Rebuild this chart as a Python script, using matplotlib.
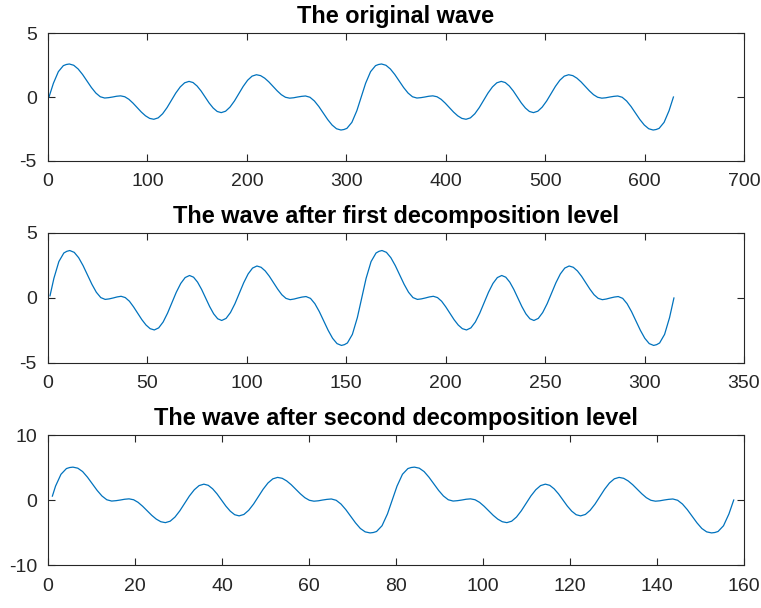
import matplotlib
matplotlib.use('Agg')
import matplotlib.pyplot as plt

# Original signal (sample index, amplitude)
orig_x = [1, 5.4, 10.4, 15.4, 18.4, 21.4, 25.85, 30.3, 34.75, 39.2,
          43.65, 48.1, 52.55, 57, 61, 65, 69, 73, 77.2, 81.35,
          85.5, 89.7, 93.9, 98.05, 102.2, 106.4, 110.8, 115.25, 119.7, 124.1,
          128.5, 133, 137.4, 141.8, 145.85, 149.9, 153.95, 158, 162.05, 166.1,
          170.15, 174.2, 178.6, 183, 187.5, 191.9, 196.3, 200.75, 205.2, 209.6,
          213.8, 217.95, 222.1, 226.3, 230.5, 234.65, 238.8, 243, 247, 251,
          255, 259, 263.45, 267.9, 272.35, 276.8, 281.25, 285.7, 290.15, 294.6,
          297.6, 300.6, 305.6, 310.6, 315,
          319.4, 324.4, 329.4, 332.4, 335.4, 339.85, 344.3, 348.75, 353.2,
          357.65, 362.1, 366.55, 371, 375, 379, 383, 387, 391.2, 395.35,
          399.5, 403.7, 407.9, 412.05, 416.2, 420.4, 424.8, 429.25, 433.7, 438.1,
          442.5, 447, 451.4, 455.8, 459.85, 463.9, 467.95, 472, 476.05, 480.1,
          484.15, 488.2, 492.6, 497, 501.5, 505.9, 510.3, 514.75, 519.2, 523.6,
          527.8, 531.95, 536.1, 540.3, 544.5, 548.65, 552.8, 557, 561, 565,
          569, 573, 577.45, 581.9, 586.35, 590.8, 595.25, 599.7, 604.15, 608.6,
          611.6, 614.6, 619.6, 624.6, 629]
orig_y = [0.0, 1.07, 1.98, 2.45, 2.54, 2.58, 2.48, 2.19, 1.76, 1.25,
          0.74, 0.31, 0.02, -0.08, -0.05, 0.0, 0.06, 0.09, 0.02, -0.18,
          -0.48, -0.83, -1.18, -1.47, -1.67, -1.74, -1.63, -1.31, -0.83, -0.26,
          0.31, 0.79, 1.11, 1.22, 1.13, 0.86, 0.47, 0.0, -0.47, -0.86,
          -1.13, -1.22, -1.11, -0.79, -0.31, 0.26, 0.83, 1.31, 1.63, 1.74,
          1.67, 1.47, 1.18, 0.83, 0.48, 0.18, -0.02, -0.09, -0.06, 0.0,
          0.05, 0.08, -0.02, -0.31, -0.74, -1.25, -1.76, -2.19, -2.48, -2.58,
          -2.54, -2.45, -1.98, -1.07, 0.0,
          1.07, 1.98, 2.45, 2.54, 2.58, 2.48, 2.19, 1.76, 1.25,
          0.74, 0.31, 0.02, -0.08, -0.05, 0.0, 0.06, 0.09, 0.02, -0.18,
          -0.48, -0.83, -1.18, -1.47, -1.67, -1.74, -1.63, -1.31, -0.83, -0.26,
          0.31, 0.79, 1.11, 1.22, 1.13, 0.86, 0.47, 0.0, -0.47, -0.86,
          -1.13, -1.22, -1.11, -0.79, -0.31, 0.26, 0.83, 1.31, 1.63, 1.74,
          1.67, 1.47, 1.18, 0.83, 0.48, 0.18, -0.02, -0.09, -0.06, 0.0,
          0.05, 0.08, -0.02, -0.31, -0.74, -1.25, -1.76, -2.19, -2.48, -2.58,
          -2.54, -2.45, -1.98, -1.07, 0.0]

# Approximation coefficients after the first level
lvl1_x = [1, 2.95, 5.45, 7.95, 9.45, 10.95, 13.18, 15.4, 17.63, 19.85,
          22.08, 24.3, 26.53, 28.75, 30.75, 32.75, 34.75, 36.75, 38.85, 40.93,
          43.0, 45.1, 47.2, 49.28, 51.35, 53.45, 55.65, 57.88, 60.1, 62.3,
          64.5, 66.75, 68.95, 71.15, 73.18, 75.2, 77.23, 79.25, 81.28, 83.3,
          85.33, 87.35, 89.55, 91.75, 94.0, 96.2, 98.4, 100.63, 102.85, 105.05,
          107.15, 109.23, 111.3, 113.4, 115.5, 117.58, 119.65, 121.75, 123.75, 125.75,
          127.75, 129.75, 131.98, 134.2, 136.43, 138.65, 140.88, 143.1, 145.33, 147.55,
          149.05, 150.55, 153.05, 155.55, 157.75,
          159.95, 162.45, 164.95, 166.45, 167.95, 170.18, 172.4, 174.63, 176.85,
          179.08, 181.3, 183.53, 185.75, 187.75, 189.75, 191.75, 193.75, 195.85, 197.93,
          200.0, 202.1, 204.2, 206.28, 208.35, 210.45, 212.65, 214.88, 217.1, 219.3,
          221.5, 223.75, 225.95, 228.15, 230.18, 232.2, 234.23, 236.25, 238.28, 240.3,
          242.33, 244.35, 246.55, 248.75, 251.0, 253.2, 255.4, 257.63, 259.85, 262.05,
          264.15, 266.23, 268.3, 270.4, 272.5, 274.58, 276.65, 278.75, 280.75, 282.75,
          284.75, 286.75, 288.98, 291.2, 293.43, 295.65, 297.88, 300.1, 302.33, 304.55,
          306.05, 307.55, 310.05, 312.55, 314.75]
lvl1_y = [0.17, 1.51, 2.80, 3.46, 3.59, 3.65, 3.51, 3.10, 2.49, 1.77,
          1.05, 0.44, 0.03, -0.11, -0.07, 0.0, 0.08, 0.13, 0.03, -0.25,
          -0.68, -1.17, -1.67, -2.08, -2.36, -2.46, -2.30, -1.85, -1.17, -0.37,
          0.44, 1.12, 1.57, 1.73, 1.60, 1.22, 0.66, 0.0, -0.66, -1.22,
          -1.60, -1.73, -1.57, -1.12, -0.44, 0.37, 1.17, 1.85, 2.30, 2.46,
          2.36, 2.08, 1.67, 1.17, 0.68, 0.25, -0.03, -0.13, -0.08, 0.0,
          0.07, 0.11, -0.03, -0.44, -1.05, -1.77, -2.49, -3.10, -3.51, -3.65,
          -3.59, -3.46, -2.80, -1.51, 0.0,
          1.51, 2.80, 3.46, 3.59, 3.65, 3.51, 3.10, 2.49, 1.77,
          1.05, 0.44, 0.03, -0.11, -0.07, 0.0, 0.08, 0.13, 0.03, -0.25,
          -0.68, -1.17, -1.67, -2.08, -2.36, -2.46, -2.30, -1.85, -1.17, -0.37,
          0.44, 1.12, 1.57, 1.73, 1.60, 1.22, 0.66, 0.0, -0.66, -1.22,
          -1.60, -1.73, -1.57, -1.12, -0.44, 0.37, 1.17, 1.85, 2.30, 2.46,
          2.36, 2.08, 1.67, 1.17, 0.68, 0.25, -0.03, -0.13, -0.08, 0.0,
          0.07, 0.11, -0.03, -0.44, -1.05, -1.77, -2.49, -3.10, -3.51, -3.65,
          -3.59, -3.46, -2.80, -1.51, 0.0]

# Approximation coefficients after the second level
lvl2_x = [1, 1.73, 2.98, 4.23, 4.98, 5.73, 6.84, 7.95, 9.06, 10.18,
          11.29, 12.4, 13.51, 14.63, 15.63, 16.63, 17.63, 18.63, 19.68, 20.71,
          21.75, 22.8, 23.85, 24.89, 25.93, 26.98, 28.08, 29.19, 30.3, 31.4,
          32.5, 33.63, 34.73, 35.83, 36.84, 37.85, 38.86, 39.88, 40.89, 41.9,
          42.91, 43.93, 45.03, 46.13, 47.25, 48.35, 49.45, 50.56, 51.68, 52.78,
          53.83, 54.86, 55.9, 56.95, 58.0, 59.04, 60.08, 61.13, 62.13, 63.13,
          64.13, 65.13, 66.24, 67.35, 68.46, 69.58, 70.69, 71.8, 72.91, 74.03,
          74.78, 75.53, 76.78, 78.03, 79.13,
          80.23, 81.48, 82.73, 83.48, 84.23, 85.34, 86.45, 87.56, 88.68,
          89.79, 90.9, 92.01, 93.13, 94.13, 95.13, 96.13, 97.13, 98.18, 99.21,
          100.25, 101.3, 102.35, 103.39, 104.43, 105.48, 106.58, 107.69, 108.8, 109.9,
          111.0, 112.13, 113.23, 114.33, 115.34, 116.35, 117.36, 118.38, 119.39, 120.4,
          121.41, 122.43, 123.53, 124.63, 125.75, 126.85, 127.95, 129.06, 130.18, 131.28,
          132.33, 133.36, 134.4, 135.45, 136.5, 137.54, 138.58, 139.63, 140.63, 141.63,
          142.63, 143.63, 144.74, 145.85, 146.96, 148.08, 149.19, 150.3, 151.41, 152.53,
          153.28, 154.03, 155.28, 156.53, 157.63]
lvl2_y = [0.6, 2.14, 3.96, 4.84, 5.0, 5.06, 4.9, 4.38, 3.52, 2.5,
          1.48, 0.62, 0.04, -0.16, -0.1, 0.0, 0.12, 0.18, 0.04, -0.36,
          -0.96, -1.66, -2.36, -2.94, -3.34, -3.48, -3.26, -2.62, -1.66, -0.52,
          0.62, 1.58, 2.22, 2.44, 2.26, 1.72, 0.94, 0.0, -0.94, -1.72,
          -2.26, -2.44, -2.22, -1.58, -0.62, 0.52, 1.66, 2.62, 3.26, 3.48,
          3.34, 2.94, 2.36, 1.66, 0.96, 0.36, -0.04, -0.18, -0.12, 0.0,
          0.1, 0.16, -0.04, -0.62, -1.48, -2.5, -3.52, -4.38, -4.9, -5.06,
          -5.0, -4.84, -3.96, -2.14, 0.0,
          2.14, 3.96, 4.84, 5.0, 5.06, 4.9, 4.38, 3.52, 2.5,
          1.48, 0.62, 0.04, -0.16, -0.1, 0.0, 0.12, 0.18, 0.04, -0.36,
          -0.96, -1.66, -2.36, -2.94, -3.34, -3.48, -3.26, -2.62, -1.66, -0.52,
          0.62, 1.58, 2.22, 2.44, 2.26, 1.72, 0.94, 0.0, -0.94, -1.72,
          -2.26, -2.44, -2.22, -1.58, -0.62, 0.52, 1.66, 2.62, 3.26, 3.48,
          3.34, 2.94, 2.36, 1.66, 0.96, 0.36, -0.04, -0.18, -0.12, 0.0,
          0.1, 0.16, -0.04, -0.62, -1.48, -2.5, -3.52, -4.38, -4.9, -5.06,
          -5.0, -4.84, -3.96, -2.14, 0.0]

titles = ['The original wave',
          'The wave after first decomposition level',
          'The wave after second decomposition level']
xlims = [700, 350, 160]
xsteps = [100, 50, 20]
ylims = [5, 5, 10]

plt.rcParams['font.family'] = ['Liberation Sans', 'DejaVu Sans']
plt.rcParams['axes.unicode_minus'] = False

axcol = '#262626'
fig = plt.figure(figsize=(7.61, 6.08), dpi=100)

# axes boxes in figure fractions (left, bottom, width, height)
boxes = [[0.0631, 0.7352, 0.9146, 0.2105],
         [0.0631, 0.4030, 0.9146, 0.2138],
         [0.0631, 0.0707, 0.9146, 0.2138]]

series = [(orig_x, orig_y), (lvl1_x, lvl1_y), (lvl2_x, lvl2_y)]

for i in range(3):
    ax = fig.add_axes(boxes[i])
    xs, ys = series[i]
    ax.plot(xs, ys, color='#0072BD', linewidth=0.9)
    ax.set_xlim(0, xlims[i])
    ax.set_ylim(-ylims[i], ylims[i])
    ax.set_xticks(range(0, xlims[i] + 1, xsteps[i]))
    ax.set_yticks([-ylims[i], 0, ylims[i]])
    ax.set_title(titles[i], fontsize=16.9, fontweight='bold', pad=7)
    for s in ax.spines.values():
        s.set_color(axcol)
        s.set_linewidth(0.8)
    ax.tick_params(direction='in', length=5, width=0.8, color=axcol,
                   labelcolor=axcol, labelsize=14, top=True, right=True)
    ax.tick_params(axis='x', pad=9)
    ax.tick_params(axis='y', pad=8)

plt.savefig('out.png', dpi=100)
